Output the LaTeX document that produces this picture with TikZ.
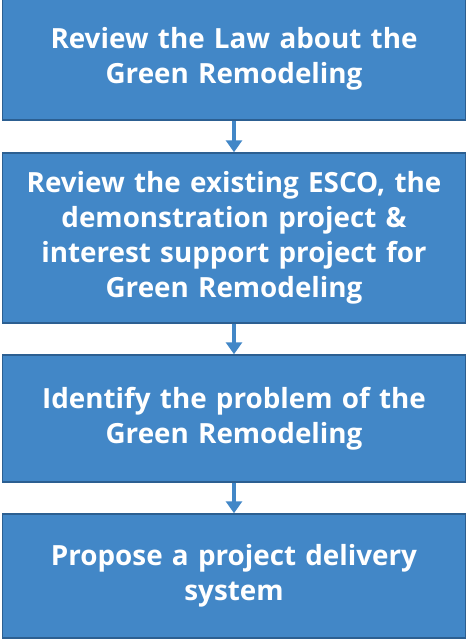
\documentclass[tikz,border=0pt]{standalone}
\usepackage{fontspec}
\setmainfont{Open Sans}
\usetikzlibrary{arrows.meta}
\definecolor{boxblue}{RGB}{66,135,199}
\definecolor{boxedge}{RGB}{44,95,145}
\begin{document}
\begin{tikzpicture}[x=1pt,y=1pt,
  flowbox/.style={draw=boxedge,line width=1.5pt,fill=boxblue,text=white,
    font=\fontsize{27.8}{35}\selectfont\bfseries,align=center,
    minimum width=463pt,inner sep=0pt,text width=455pt},
  flowarrow/.style={draw=boxblue,line width=4pt,-{Triangle[length=12pt,width=16pt]}}]
\useasboundingbox (0,0) rectangle (472,-640);
\node[flowbox,minimum height=122pt] (b1) at (234,-59) {Review the Law about the\\Green Remodeling};
\node[flowbox,minimum height=170pt] (b2) at (234,-238) {Review the existing ESCO, the\\demonstration project \&\\interest support project for\\Green Remodeling};
\node[flowbox,minimum height=127pt] (b3) at (234,-418.5) {Identify the problem of the\\Green Remodeling};
\node[flowbox,minimum height=124pt] (b4) at (234,-576) {Propose a project delivery\\system};
\draw[flowarrow] (b1.south) -- (b2.north);
\draw[flowarrow] (b2.south) -- (b3.north);
\draw[flowarrow] (b3.south) -- (b4.north);
\end{tikzpicture}
\end{document}
